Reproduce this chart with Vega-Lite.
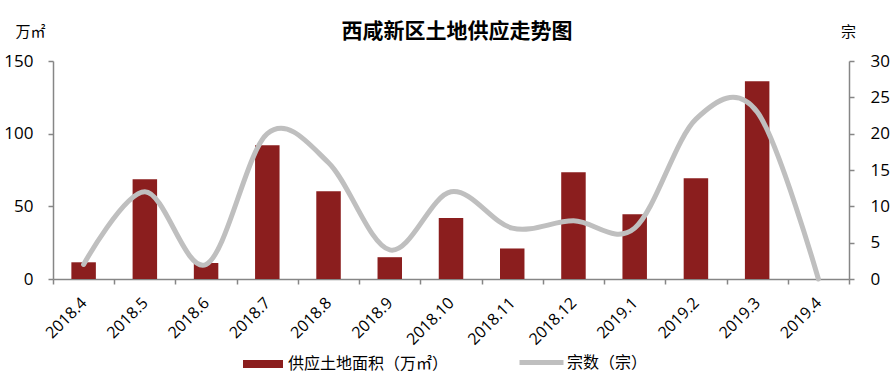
{
  "$schema": "https://vega.github.io/schema/vega-lite/v6.json",
  "width": 796,
  "height": 218,
  "autosize": {"type": "none"},
  "padding": {"left": 53, "top": 61, "right": 44, "bottom": 102},
  "background": "white",
  "config": {
    "view": {"stroke": null},
    "font": "Noto Sans CJK SC"
  },
  "title": {
    "text": "西咸新区土地供应走势图",
    "fontSize": 21,
    "fontWeight": "bold",
    "font": "Noto Sans CJK SC",
    "color": "#000000",
    "anchor": "middle",
    "frame": "group",
    "offset": -18,
    "dx": 6
  },
  "data": {
    "values": [
      {"month": "2018.4", "area": 11.5, "count": 2},
      {"month": "2018.5", "area": 68.6, "count": 12},
      {"month": "2018.6", "area": 11, "count": 2},
      {"month": "2018.7", "area": 92, "count": 20},
      {"month": "2018.8", "area": 60.4, "count": 16},
      {"month": "2018.9", "area": 15, "count": 4},
      {"month": "2018.10", "area": 42, "count": 12},
      {"month": "2018.11", "area": 21, "count": 7},
      {"month": "2018.12", "area": 73.5, "count": 8},
      {"month": "2019.1", "area": 44.5, "count": 7},
      {"month": "2019.2", "area": 69.3, "count": 22},
      {"month": "2019.3", "area": 136, "count": 23},
      {"month": "2019.4", "area": 0, "count": 0}
    ]
  },
  "encoding": {
    "x": {
      "field": "month",
      "type": "ordinal",
      "sort": null,
      "scale": {"paddingInner": 0, "paddingOuter": 0},
      "axis": {
        "title": null,
        "labelAngle": -45,
        "labelAlign": "right",
        "labelBaseline": "middle",
        "labelFont": "Open Sans",
        "labelFontSize": 16,
        "labelColor": "#000000",
        "labelPadding": 16,
        "tickBand": "extent",
        "tickSize": 5,
        "tickColor": "#868686",
        "domainColor": "#868686",
        "domainWidth": 1.5,
        "tickWidth": 1.5
      }
    }
  },
  "layer": [
    {
      "mark": {"type": "bar", "width": {"band": 0.4}},
      "encoding": {
        "y": {
          "field": "area",
          "type": "quantitative",
          "scale": {"domain": [0, 150], "nice": false},
          "axis": {
            "values": [0, 50, 100, 150],
            "grid": false,
            "title": "万㎡",
            "titleAngle": 0,
            "titleX": -38,
            "titleY": -30,
            "titleAlign": "left",
            "titleBaseline": "middle",
            "titleFont": "Noto Sans CJK SC",
            "titleFontSize": 15,
            "titleFontWeight": "normal",
            "titleColor": "#000000",
            "labelFont": "Open Sans",
            "labelFontSize": 17,
            "labelColor": "#000000",
            "labelPadding": 15,
            "tickSize": 5,
            "tickColor": "#868686",
            "domainColor": "#868686",
            "domainWidth": 1.5,
            "tickWidth": 1.5
          }
        },
        "fill": {
          "datum": "供应土地面积（万㎡）",
          "scale": {"range": ["#8B1E1E"]},
          "legend": {
            "title": null,
            "orient": "none",
            "legendX": 190,
            "legendY": 283,
            "symbolType": "M-1,-0.2H1V0.2H-1Z",
            "symbolSize": 1600,
            "symbolStrokeWidth": 0,
            "labelFont": "Noto Sans CJK SC",
            "labelFontSize": 16,
            "labelLimit": 400,
            "labelColor": "#000000",
            "labelOffset": 5
          }
        }
      }
    },
    {
      "mark": {"type": "line", "interpolate": "cardinal", "tension": 0, "strokeWidth": 5, "strokeCap": "round"},
      "encoding": {
        "x": {"field": "month", "type": "ordinal", "sort": null, "bandPosition": 0.5},
        "y": {
          "field": "count",
          "type": "quantitative",
          "scale": {"domain": [0, 30], "nice": false},
          "axis": {
            "orient": "right",
            "values": [0, 5, 10, 15, 20, 25, 30],
            "grid": false,
            "title": "宗",
            "titleAngle": 0,
            "titleX": -1,
            "titleY": -30,
            "titleAlign": "center",
            "titleBaseline": "middle",
            "titleFont": "Noto Sans CJK SC",
            "titleFontSize": 15,
            "titleFontWeight": "normal",
            "titleColor": "#000000",
            "labelFont": "Open Sans",
            "labelFontSize": 17,
            "labelColor": "#000000",
            "labelPadding": 16,
            "tickSize": 5,
            "tickColor": "#868686",
            "domainColor": "#868686",
            "domainWidth": 1.5,
            "tickWidth": 1.5
          }
        },
        "stroke": {
          "datum": "宗数（宗）",
          "scale": {"range": ["#BFBFBF"]},
          "legend": {
            "title": null,
            "orient": "none",
            "legendX": 464,
            "legendY": 277,
            "symbolType": "stroke",
            "symbolSize": 1936,
            "symbolStrokeWidth": 5,
            "labelFont": "Noto Sans CJK SC",
            "labelFontSize": 16,
            "labelLimit": 400,
            "labelColor": "#000000",
            "labelOffset": 1
          }
        }
      }
    }
  ],
  "resolve": {"scale": {"y": "independent"}}
}
